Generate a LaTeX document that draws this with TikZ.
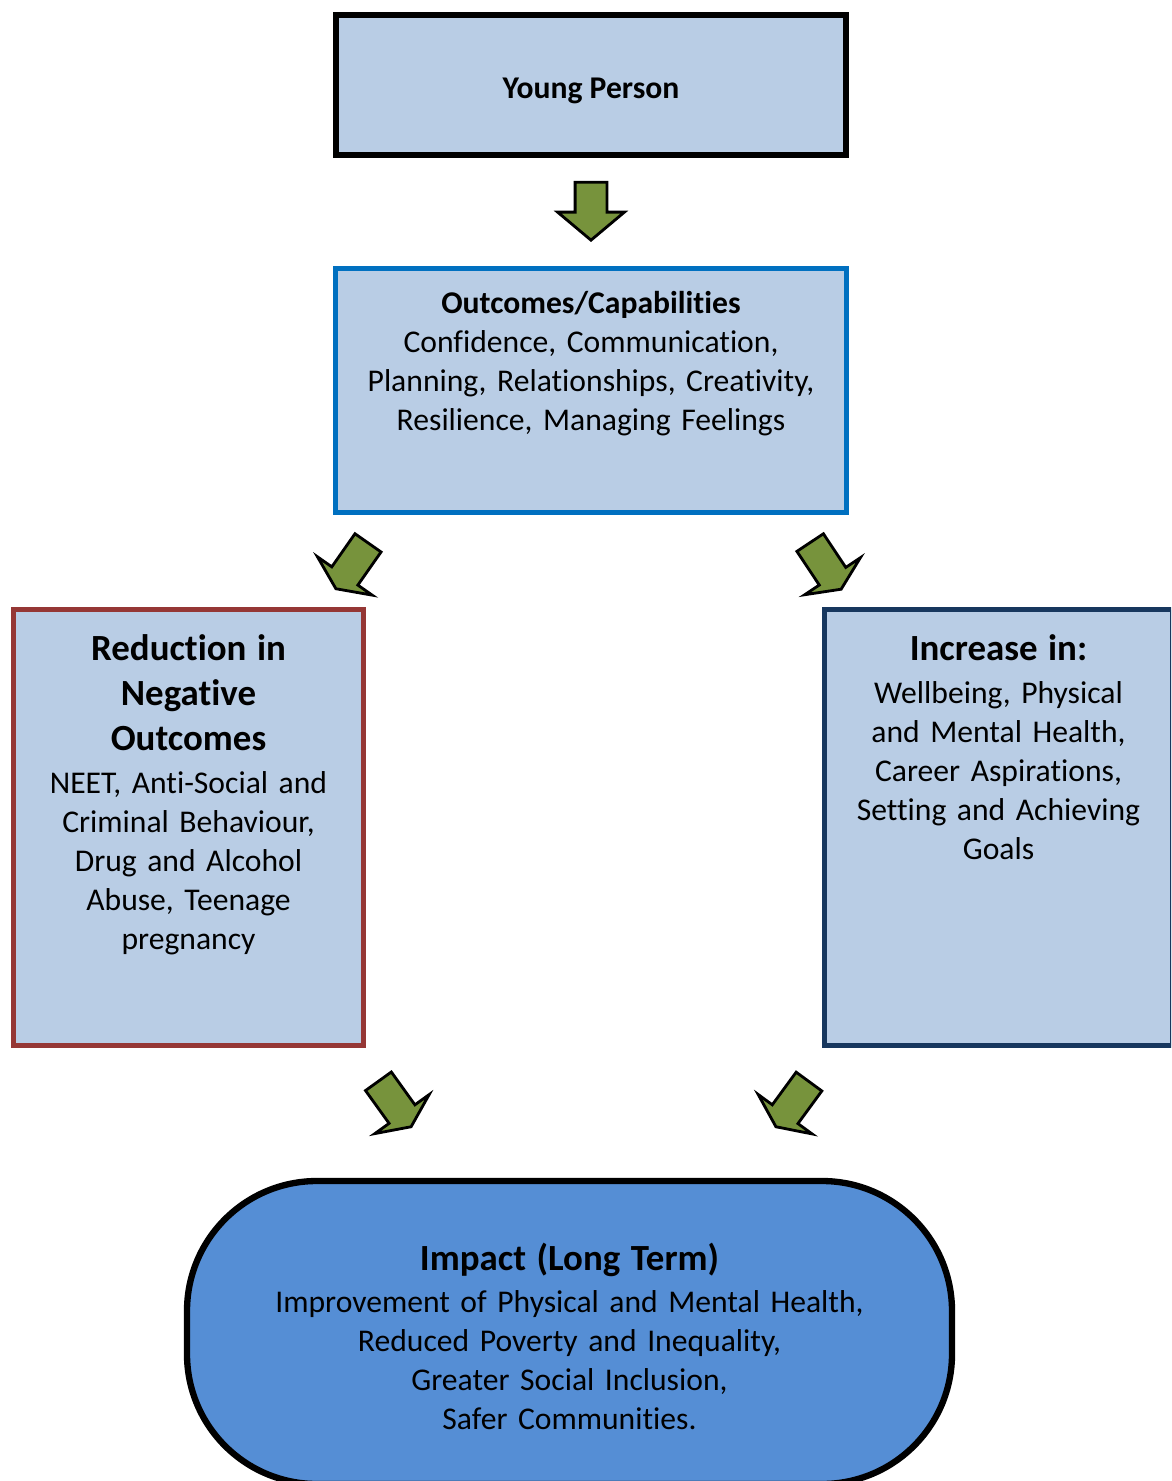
\documentclass[tikz,border=0pt]{standalone}
\usepackage{fontspec}
\setmainfont{Carlito}[Ligatures=CommonOff]
\usetikzlibrary{positioning,shapes.arrows}

\definecolor{boxfill}{HTML}{B9CDE5}
\definecolor{outcblue}{HTML}{0070C0}
\definecolor{redborder}{HTML}{953735}
\definecolor{incrborder}{HTML}{17375E}
\definecolor{impactblue}{HTML}{558ED5}
\definecolor{arrowgreen}{HTML}{77933C}

\newcommand{\headfont}{\fontsize{10.5}{12.8}\selectfont\bfseries}
\newcommand{\bodyfont}{\fontsize{9}{11.1}\selectfont}

\begin{document}
\begin{tikzpicture}[
    box/.style={draw, fill=boxfill, rectangle, inner sep=0pt, line width=1.4pt},
    boxtext/.style={inner sep=0pt, align=center, text width=#1, font=\bodyfont},
    flowarrow/.style={single arrow, draw=black, fill=arrowgreen, line width=0.8pt,
        inner sep=0pt, inner ysep=0.145cm, single arrow head extend=0.175cm,
        single arrow tip angle=130, minimum height=0.56cm, anchor=tip}
  ]
  \useasboundingbox (0,0) rectangle (11.71,-14.81);
  \clip (0,0) rectangle (11.71,-14.81);

  % boxes
  \node[box, line width=1.7pt, minimum width=5.10cm, minimum height=1.40cm,
        text height=7.4pt, text depth=0pt, font=\bodyfont\bfseries] (yp) at (5.91,-0.85) {Young Person};
  \node[box, draw=outcblue, minimum width=5.11cm, minimum height=2.44cm] (outc) at (5.91,-3.905) {};
  \node[boxtext=5.0cm, below=0.25cm of outc.north] (outc_txt)
    {\textbf{Outcomes/Capabilities}\\Confidence, Communication,\\Planning, Relationships, Creativity,\\Resilience, Managing Feelings};

  \node[box, draw=redborder, minimum width=3.50cm, minimum height=4.36cm] (redu) at (1.885,-8.275) {};
  \node[boxtext=3.4cm, below=0.27cm of redu.north] (redu_txt)
    {{\headfont Reduction in\\Negative\\Outcomes\par}\vspace{1pt}NEET, Anti-Social and\\Criminal Behaviour,\\Drug and Alcohol\\Abuse, Teenage\\pregnancy};

  \node[box, draw=incrborder, minimum width=3.48cm, minimum height=4.36cm] (incr) at (9.985,-8.275) {};
  \node[boxtext=3.4cm, below=0.27cm of incr.north] (incr_txt)
    {{\headfont Increase in:\par}\vspace{1pt}Wellbeing, Physical\\and Mental Health,\\Career Aspirations,\\Setting and Achieving\\Goals};

  \node[box, fill=impactblue, line width=1.8pt, rounded corners=1.3cm, minimum width=7.65cm,
        minimum height=3.03cm] (impact) at (5.695,-13.325) {};
  \node[boxtext=7cm] (impact_txt) at ([yshift=-0.04cm]impact.center)
    {{\headfont Impact (Long Term)\par}\vspace{1pt}Improvement of Physical and Mental Health,\\Reduced Poverty and Inequality,\\Greater Social Inclusion,\\Safer Communities.};

  % arrows
  \node[flowarrow, rotate=-90, single arrow tip angle=100, minimum height=0.58cm] (arr_1) at (5.91,-2.42) {};
  \node[flowarrow, rotate=235] (arr_2) at (3.35,-5.90) {};
  \node[flowarrow, rotate=-56.4] (arr_3) at (8.42,-5.905) {};
  \node[flowarrow, rotate=-54.3] (arr_4) at (4.12,-11.28) {};
  \node[flowarrow, rotate=233.8] (arr_5) at (7.75,-11.28) {};
\end{tikzpicture}
\end{document}
